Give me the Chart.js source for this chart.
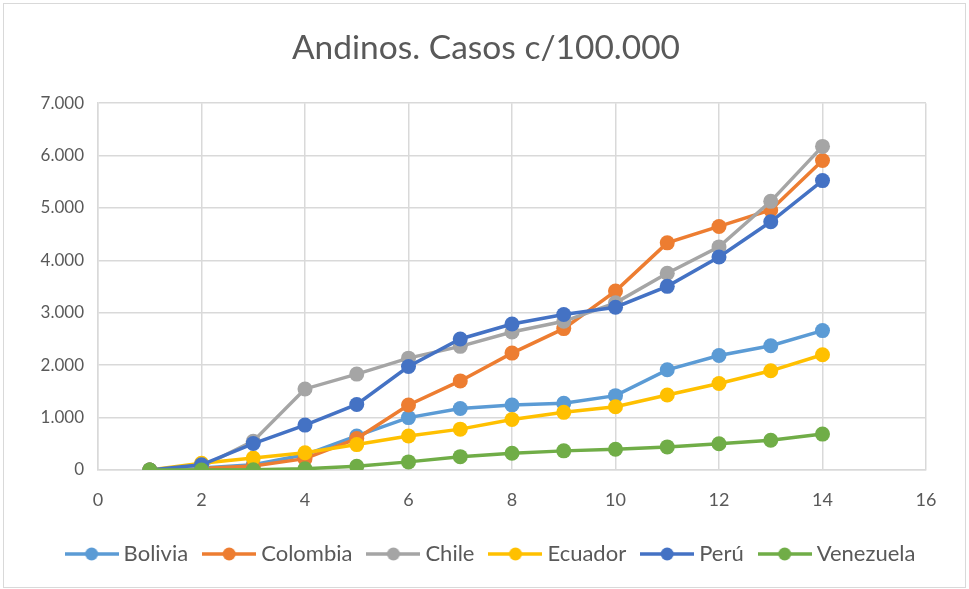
<!DOCTYPE html>
<html>
<head>
<meta charset="utf-8">
<script src="https://cdn.jsdelivr.net/npm/chart.js@4"></script>
<style>
  html, body { margin: 0; padding: 0; background: #fff; }
  #wrap { width: 969px; height: 589px; position: relative; }
</style>
</head>
<body>
<div id="wrap"><canvas id="grafico"></canvas></div>
<script>
// datos
const dias = [1, 2, 3, 4, 5, 6, 7, 8, 9, 10, 11, 12, 13, 14];
const bolivia   = [0, 40, 100, 290, 650, 1000, 1175, 1240, 1272, 1419, 1912, 2186, 2372, 2660];
const colombia  = [0, 30, 77, 217, 600, 1240, 1700, 2231, 2698, 3414, 4335, 4648, 4962, 5907];
const chile     = [0, 60, 550, 1547, 1830, 2135, 2360, 2634, 2838, 3190, 3755, 4258, 5127, 6176];
const ecuador   = [0, 130, 230, 330, 485, 650, 780, 965, 1100, 1208, 1432, 1650, 1893, 2200];
const peru      = [0, 100, 505, 857, 1250, 1975, 2500, 2787, 2967, 3107, 3505, 4066, 4737, 5523];
const venezuela = [0, 0, 5, 25, 70, 155, 255, 320, 365, 397, 441, 500, 569, 685];

const paises = ['Bolivia', 'Colombia', 'Chile', 'Ecuador', 'Perú', 'Venezuela'];
const series = [bolivia, colombia, chile, ecuador, peru, venezuela];
const colores = ['#5B9BD5', '#ED7D31', '#A5A5A5', '#FFC000', '#4472C4', '#70AD47'];

const fuente = "Lato, 'Open Sans', sans-serif";
const gris = '#595959';

// icono de leyenda: linea con punto en el medio
function iconoLeyenda(color) {
    const c = document.createElement('canvas');
    c.width = 54; c.height = 16;
    const g = c.getContext('2d');
    g.strokeStyle = color;
    g.lineWidth = 3.5;
    g.beginPath(); g.moveTo(0, 8); g.lineTo(54, 8); g.stroke();
    g.fillStyle = color;
    g.beginPath(); g.arc(27, 8, 6.5, 0, Math.PI * 2); g.fill();
    return c;
}

// marco gris alrededor del grafico
const marco = {
    id: 'marco',
    beforeDraw(chart) {
        const ctx = chart.ctx;
        ctx.save();
        ctx.fillStyle = '#fff';
        ctx.fillRect(0, 0, chart.width, chart.height);
        ctx.strokeStyle = '#D9D9D9';
        ctx.lineWidth = 1;
        ctx.strokeRect(3.5, 3.5, chart.width - 7, chart.height - 5);
        ctx.restore();
    }
};

// en Excel el titulo y la leyenda se centran en todo el grafico, no en el area del grafico
const centrar = {
    id: 'centrar',
    afterLayout(chart) {
        chart.titleBlock.left += 18; chart.titleBlock.right += 18;
        chart.legend.left += 25; chart.legend.right += 25;
    }
};

const datasets = paises.map((p, i) => ({
    label: p,
    data: dias.map((d, j) => ({ x: d, y: series[i][j] })),
    borderColor: colores[i],
    backgroundColor: colores[i],
    borderWidth: 3.5,
    pointRadius: 7.5,
    pointHoverRadius: 7.5,
    pointBorderWidth: 0,
    showLine: true,
    order: paises.length - i // Venezuela queda encima como en Excel
}));

new Chart(document.getElementById('grafico'), {
    type: 'scatter',
    data: { datasets: datasets },
    options: {
        responsive: true,
        maintainAspectRatio: false,
        animation: false,
        layout: { padding: { left: 10, right: 43, top: 0, bottom: 14 } },
        plugins: {
            title: {
                display: true,
                text: 'Andinos. Casos c/100.000',
                color: gris,
                font: { family: fuente, size: 33.5, weight: 'normal' },
                padding: { top: 28, bottom: 35 }
            },
            legend: {
                position: 'bottom',
                labels: {
                    color: gris,
                    font: { family: fuente, size: 22 },
                    usePointStyle: true,
                    pointStyleWidth: 42,
                    padding: 20,
                    sort: (a, b) => a.datasetIndex - b.datasetIndex,
                    generateLabels(chart) {
                        const items = Chart.defaults.plugins.legend.labels.generateLabels(chart);
                        items.forEach(it => { it.pointStyle = iconoLeyenda(colores[it.datasetIndex]); });
                        return items;
                    }
                }
            },
            tooltip: { enabled: false }
        },
        scales: {
            x: {
                type: 'linear',
                min: 0, max: 16,
                ticks: { stepSize: 2, color: gris, padding: 19, font: { family: fuente, size: 18 } },
                grid: { color: '#D9D9D9', lineWidth: 1.5, drawTicks: false },
                border: { color: '#D9D9D9', width: 1.5 },
                afterFit: s => { s.height = 53; }
            },
            y: {
                min: 0, max: 7000,
                ticks: {
                    stepSize: 1000, color: gris, padding: 14,
                    font: { family: fuente, size: 17 },
                    callback: v => v.toLocaleString('de-DE')
                },
                grid: { color: '#D9D9D9', lineWidth: 1.5, drawTicks: false },
                border: { color: '#D9D9D9', width: 1.5 },
                afterFit: s => { s.width = 88; }
            }
        }
    },
    plugins: [marco, centrar]
});
</script>
</body>
</html>
